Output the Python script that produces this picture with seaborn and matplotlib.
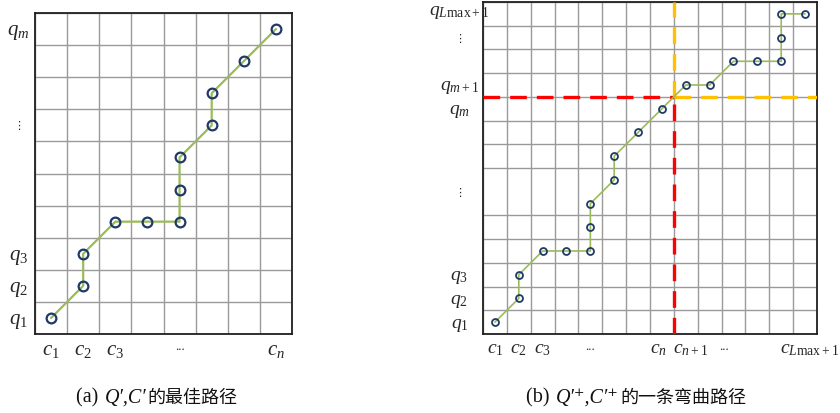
import numpy as np
import pandas as pd
import matplotlib
matplotlib.use("Agg")
import matplotlib.pyplot as plt
from matplotlib.offsetbox import TextArea, HPacker, AnnotationBbox
import seaborn as sns

# ---- data ----
left_cols = [1, 2, 2, 3, 4, 5, 5, 5, 6, 6, 7, 8]
left_rows = [1, 2, 3, 4, 4, 4, 5, 6, 7, 8, 9, 10]
left_ncols, left_nrows = 8, 10
left_xlabels = [r"$c_1$", r"$c_2$", r"$c_3$", "...", r"$c_n$"]
left_xlabel_pos = [1, 2, 3, 5, 8]
left_ylabels = [r"$q_1$", r"$q_2$", r"$q_3$", "\u22ee", r"$q_m$"]
left_ylabel_pos = [1, 2, 3, 7, 10]

right_cols = [1, 2, 2, 3, 4, 5, 5, 5, 6, 6, 7, 8, 9, 10, 11, 12, 13, 13, 13, 14]
right_rows = [1, 2, 3, 4, 4, 4, 5, 6, 7, 8, 9, 10, 11, 11, 12, 12, 12, 13, 14, 14]
right_ncols, right_nrows = 14, 14
n_split, m_split = 8, 10
right_xlabels = [r"$c_1$", r"$c_2$", r"$c_3$", "...", r"$c_n$", r"$c_{n+1}$", "...", r"$c_{L\mathrm{max}+1}$"]
right_xlabel_pos = [1, 2, 3, 5, 7.85, 9.2, 10.6, 14.2]
right_ylabels = [r"$q_1$", r"$q_2$", r"$q_3$", "\u22ee", r"$q_m$", r"$q_{m+1}$", "\u22ee", r"$q_{L\mathrm{max}+1}$"]
right_ylabel_pos = [1, 2, 3, 6.5, 10, 11, 13, 14.2]

caption_a = ["(a) ", "Q\u2032,C\u2032", "的最佳路径"]
caption_b = ["(b) ", "Q\u2032\u207a,C\u2032\u207a", "的一条弯曲路径"]

sns.set_style("white")
plt.rcParams["font.family"] = ["Liberation Serif", "DejaVu Serif", "Noto Sans CJK SC"]
plt.rcParams["mathtext.fontset"] = "custom"
plt.rcParams["mathtext.rm"] = "Liberation Serif"
plt.rcParams["mathtext.it"] = "Liberation Serif:italic"
plt.rcParams["mathtext.bf"] = "Liberation Serif:bold"

fig = plt.figure(figsize=(8.4, 4.13), dpi=100)
ax1 = fig.add_axes([35/840, 1-334/413, 257/840, 321/413])
ax2 = fig.add_axes([483/840, 1-334/413, 334/840, 332/413])

green = "#9BBB59"
navy = "#1F3A68"

def setup(ax, ncols, nrows, xl, xp, yl, yp, fs, ypad):
    ax.set_xlim(0, ncols)
    ax.set_ylim(0, nrows)
    ax.set_xticks(np.arange(0, ncols + 1), minor=True)
    ax.set_yticks(np.arange(0, nrows + 1), minor=True)
    ax.grid(which="minor", color="#9a9a9a", lw=1.0)
    ax.grid(which="major", visible=False)
    ax.set_xticks([p - 0.5 for p in xp])
    ax.set_xticklabels(xl, fontsize=fs)
    ax.set_yticks([p - 0.5 for p in yp])
    ax.set_yticklabels(yl, fontsize=fs)
    ax.tick_params(which="both", length=0)
    ax.tick_params(axis="x", pad=5)
    ax.tick_params(axis="y", pad=ypad)
    for t in ax.get_yticklabels():
        t.set_horizontalalignment("center")
        if t.get_text() == "\u22ee":
            t.set_fontsize(8)
            t.set_family("DejaVu Sans")
    for t in ax.get_xticklabels():
        if t.get_text() == "...":
            t.set_fontsize(9)
    for s in ax.spines.values():
        s.set_color("#202020")
        s.set_linewidth(1.3)
    ax.set_xlabel("")
    ax.set_ylabel("")
    ax.set_axisbelow(True)

df1 = pd.DataFrame({"x": np.array(left_cols) - 0.5, "y": np.array(left_rows) - 0.5})
sns.lineplot(data=df1, x="x", y="y", sort=False, estimator=None, ax=ax1, color=green, lw=1.6,
             marker="o", markersize=7, markerfacecolor="none",
             markeredgecolor=navy, markeredgewidth=1.6, zorder=5)
setup(ax1, left_ncols, left_nrows, left_xlabels, left_xlabel_pos,
      left_ylabels, left_ylabel_pos, 15, 12)

# dashed split lines on right panel
ax2.plot([0, n_split], [m_split, m_split], color="#FF0000", lw=2.4, ls=(0, (5, 3)), zorder=4)
ax2.plot([n_split, right_ncols], [m_split, m_split], color="#FFC000", lw=2.4, ls=(0, (5, 3)), zorder=4)
ax2.plot([n_split, n_split], [0, m_split], color="#FF0000", lw=2.4, ls=(0, (5, 3)), zorder=4)
ax2.plot([n_split, n_split], [m_split, right_nrows], color="#FFC000", lw=2.4, ls=(0, (5, 3)), zorder=4)

df2 = pd.DataFrame({"x": np.array(right_cols) - 0.5, "y": np.array(right_rows) - 0.5})
sns.lineplot(data=df2, x="x", y="y", sort=False, estimator=None, ax=ax2, color=green, lw=1.2,
             marker="o", markersize=5, markerfacecolor="none",
             markeredgecolor=navy, markeredgewidth=1.3, zorder=5)
setup(ax2, right_ncols, right_nrows, right_xlabels, right_xlabel_pos,
      right_ylabels, right_ylabel_pos, 14, 17)

def caption(parts, xy):
    fams = [["Liberation Serif", "DejaVu Serif"],
            ["Liberation Serif", "DejaVu Serif"],
            ["Noto Sans CJK SC", "DejaVu Sans"]]
    styles = ["normal", "italic", "normal"]
    sizes = [14.5, 14.5, 13]
    weights = ["normal", "normal", "light"]
    boxes = [TextArea(p, textprops=dict(family=f, style=s, fontsize=z, weight=w, color="#111111"))
             for p, f, s, z, w in zip(parts, fams, styles, sizes, weights)]
    pack = HPacker(children=boxes, align="baseline", pad=0, sep=1)
    ab = AnnotationBbox(pack, xy, xycoords="figure pixels", frameon=False, box_alignment=(0.5, 0.5))
    fig.add_artist(ab)

caption(caption_a, (157, 413 - 398))
caption(caption_b, (636, 413 - 398))

fig.savefig("out.png", dpi=100)
